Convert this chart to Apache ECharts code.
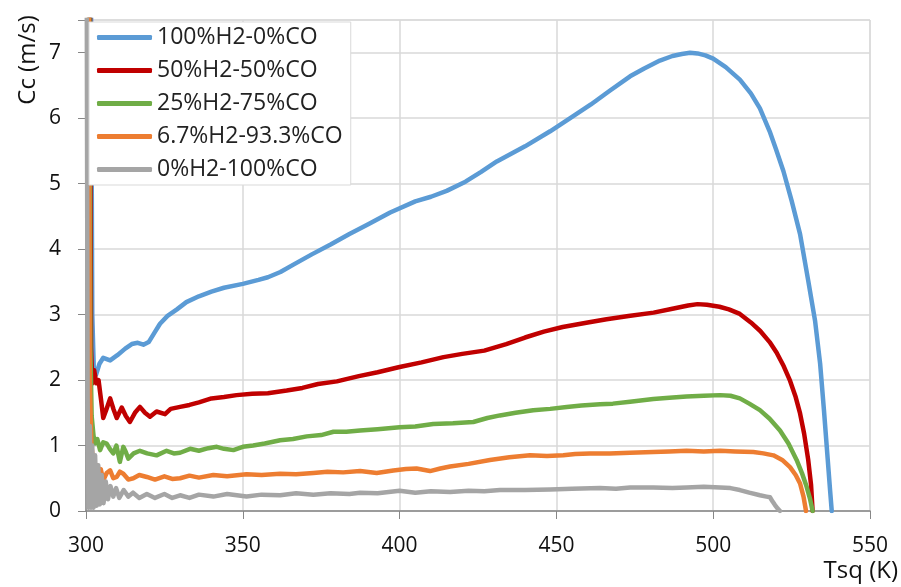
<!DOCTYPE html>
<html>
<head>
<meta charset="UTF-8">
<title>Cc vs Tsq</title>
<script src="https://cdn.jsdelivr.net/npm/echarts@6/dist/echarts.min.js"></script>
<style>
  html, body { margin: 0; padding: 0; background: #fff; }
  #main { width: 901px; height: 587px; }
</style>
</head>
<body>
<div id="main"></div>
<script>
// series names (legend order)
var names = ['100%H2-0%CO', '50%H2-50%CO', '25%H2-75%CO', '6.7%H2-93.3%CO', '0%H2-100%CO'];
var colors = ['#5b9bd5', '#c00000', '#70ad47', '#ed7d31', '#a5a5a5'];

// x axis ticks
var xTicks = [300, 350, 400, 450, 500, 550];

// 100%H2-0%CO
var tBlue = [301.5, 302.0, 302.5, 303.2, 304.3, 305.5, 307.7, 310, 312.5, 314.6, 316.5, 318.3, 320, 321.8, 323.6, 326, 329, 332, 336, 340, 344, 350, 355, 358, 362, 366, 372, 378, 384, 390, 397, 405, 410, 415, 421, 426, 431, 440, 448, 455, 461, 467, 473.5, 478, 483, 487, 490, 492.6, 495, 497.5, 500, 504, 508.5, 512, 514.9, 518, 520, 522.4, 525, 527.7, 530.3, 532.5, 534.1, 535.3, 536.5, 537.3, 537.8];
var vBlue = [9, 3.0, 2.15, 2.08, 2.25, 2.34, 2.30, 2.38, 2.48, 2.55, 2.57, 2.54, 2.58, 2.72, 2.86, 2.98, 3.08, 3.19, 3.28, 3.35, 3.41, 3.47, 3.53, 3.57, 3.65, 3.76, 3.92, 4.07, 4.23, 4.38, 4.56, 4.73, 4.80, 4.89, 5.03, 5.18, 5.34, 5.57, 5.80, 6.02, 6.21, 6.42, 6.64, 6.76, 6.88, 6.95, 6.98, 7.0, 6.99, 6.96, 6.91, 6.78, 6.59, 6.38, 6.15, 5.80, 5.53, 5.19, 4.74, 4.23, 3.52, 2.90, 2.25, 1.55, 0.8, 0.3, 0];

// 50%H2-50%CO
var tRed = [301.2, 301.6, 302.0, 302.6, 303.3, 304.0, 304.8, 305.5, 306.5, 307.7, 308.8, 309.8, 311.4, 312.7, 314.0, 315.6, 317.2, 318.8, 320.4, 322.5, 325.2, 327, 330, 333, 336, 340, 344, 348, 353, 358, 364, 369, 374, 380, 387, 393, 400, 407, 414, 420, 427, 434, 440, 446, 452, 460, 466, 473, 481, 487, 492, 495, 498, 502, 505, 508.5, 512, 515, 518, 520.2, 522.5, 524.5, 526.3, 527.7, 529, 530.3, 531.2, 531.7];
var vRed = [9, 2.5, 1.95, 2.15, 1.95, 2.0, 1.7, 1.42, 1.55, 1.72, 1.55, 1.42, 1.58, 1.45, 1.36, 1.50, 1.59, 1.50, 1.44, 1.52, 1.48, 1.56, 1.59, 1.62, 1.66, 1.72, 1.74, 1.77, 1.79, 1.80, 1.84, 1.88, 1.94, 1.98, 2.06, 2.12, 2.20, 2.27, 2.35, 2.40, 2.45, 2.55, 2.65, 2.74, 2.81, 2.88, 2.93, 2.98, 3.03, 3.09, 3.14, 3.16, 3.15, 3.12, 3.08, 3.01, 2.88, 2.75, 2.58, 2.42, 2.21, 1.99, 1.74, 1.49, 1.18, 0.78, 0.4, 0];

// 25%H2-75%CO
var tGreen = [301.0, 301.4, 301.8, 302.4, 302.9, 303.6, 304.5, 305.5, 306.6, 307.6, 308.7, 309.7, 310.8, 311.9, 312.7, 313.5, 315.2, 317.2, 319.5, 322.5, 325.7, 328, 330, 333.2, 336, 339, 341.7, 344, 347, 350, 353.3, 357, 361.9, 366, 370.4, 375, 378.9, 383, 387.4, 393, 400, 405, 410.7, 417, 423.5, 428, 432, 437, 442.6, 448, 453.3, 458, 463.9, 468, 473.5, 480.9, 486, 491.5, 497, 502.2, 505.5, 508.5, 511.5, 514.9, 518, 521.3, 524, 526.6, 528.3, 529.8, 530.9, 531.7];
var vGreen = [9, 2.5, 1.45, 1.15, 1.03, 1.10, 0.93, 1.05, 1.03, 0.95, 0.88, 1.0, 0.75, 0.98, 0.90, 0.80, 0.88, 0.92, 0.88, 0.85, 0.92, 0.88, 0.89, 0.95, 0.92, 0.96, 0.98, 0.95, 0.93, 0.98, 1.00, 1.03, 1.08, 1.10, 1.14, 1.16, 1.21, 1.21, 1.23, 1.25, 1.28, 1.29, 1.33, 1.34, 1.36, 1.42, 1.46, 1.50, 1.54, 1.56, 1.59, 1.61, 1.63, 1.64, 1.67, 1.71, 1.73, 1.75, 1.76, 1.77, 1.76, 1.72, 1.64, 1.54, 1.41, 1.23, 1.03, 0.78, 0.58, 0.37, 0.18, 0];

// 6.7%H2-93.3%CO
var tOrange = [300.8, 301.2, 301.7, 302.3, 302.8, 303.4, 303.9, 304.7, 305.5, 306.6, 307.7, 308.7, 309.8, 310.8, 311.9, 313.5, 315.1, 317, 319.4, 322, 325, 327.5, 330, 333, 336, 340.6, 345, 351.2, 356, 361.9, 367, 372.5, 377, 382, 387.4, 392.7, 398, 402, 405.4, 409.7, 413, 416.1, 422, 428.8, 435, 441.6, 447, 452.2, 456, 460.7, 467, 473.5, 480.9, 486, 491.5, 497, 502.2, 507, 512.8, 516, 519.2, 522, 524.5, 526.3, 527.7, 528.8, 529.6];
var vOrange = [9, 2.0, 1.0, 0.78, 0.62, 0.70, 0.57, 0.64, 0.47, 0.58, 0.62, 0.50, 0.52, 0.60, 0.57, 0.48, 0.50, 0.55, 0.52, 0.48, 0.53, 0.49, 0.50, 0.54, 0.51, 0.55, 0.53, 0.56, 0.55, 0.57, 0.56, 0.58, 0.60, 0.59, 0.61, 0.58, 0.62, 0.64, 0.65, 0.61, 0.65, 0.68, 0.72, 0.78, 0.82, 0.85, 0.84, 0.85, 0.87, 0.88, 0.88, 0.89, 0.90, 0.91, 0.92, 0.91, 0.92, 0.91, 0.90, 0.88, 0.85, 0.78, 0.67, 0.55, 0.42, 0.22, 0];

// 0%H2-100%CO
var tGray = [300.2, 300.5, 300.8, 301.2, 301.6, 302.0, 302.4, 302.9, 303.4, 303.9, 304.4, 305.0, 305.6, 306.3, 307.0, 307.8, 308.7, 309.6, 310.6, 312, 313.5, 315, 317, 319.4, 322, 325, 327.5, 330, 333, 336, 340.6, 345, 351.2, 356, 361.9, 367, 372.5, 378, 384, 387.4, 393, 400, 405, 410, 416.1, 422, 427, 432, 440, 448, 455, 463.9, 469, 473.5, 480.9, 487, 491.5, 497, 502.2, 505.5, 508.5, 511.5, 514.9, 517, 518.1, 519.0, 519.7, 520.5, 521.3];
var vGray = [9, 1.8, 0.05, 1.3, 0.05, 1.0, 0.05, 0.85, 0.08, 0.7, 0.1, 0.55, 0.12, 0.45, 0.18, 0.38, 0.22, 0.35, 0.2, 0.32, 0.22, 0.28, 0.2, 0.26, 0.2, 0.26, 0.2, 0.24, 0.2, 0.25, 0.22, 0.26, 0.22, 0.25, 0.24, 0.27, 0.25, 0.27, 0.26, 0.28, 0.27, 0.31, 0.28, 0.30, 0.29, 0.31, 0.30, 0.32, 0.32, 0.33, 0.34, 0.35, 0.34, 0.36, 0.36, 0.35, 0.36, 0.37, 0.36, 0.35, 0.32, 0.28, 0.24, 0.22, 0.21, 0.14, 0.09, 0.04, 0];

var xs = [tBlue, tRed, tGreen, tOrange, tGray];
var ys = [vBlue, vRed, vGreen, vOrange, vGray];

function pairs(t, v) {
  var out = [];
  for (var i = 0; i < t.length; i++) out.push([t[i], v[i]]);
  return out;
}

var font = '"Open Sans", "Noto Sans", sans-serif';

var series = [];
for (var k = 0; k < names.length; k++) {
  series.push({
    name: names[k],
    type: 'line',
    data: pairs(xs[k], ys[k]),
    showSymbol: false,
    symbol: 'none',
    smooth: false,
    clip: true,
    lineStyle: { color: colors[k], width: 4.5, cap: 'round', join: 'round' },
    itemStyle: { color: colors[k] }
  });
}

var chart = echarts.init(document.getElementById('main'));
chart.setOption({
  animation: false,
  backgroundColor: '#fff',
  grid: {
    left: 86, right: 31, top: 20, bottom: 76,
    show: true, borderColor: '#d9d9d9', borderWidth: 1
  },
  legend: {
    orient: 'vertical',
    left: 89, top: 22,
    data: names,
    icon: 'roundRect',
    itemWidth: 55, itemHeight: 5,
    itemGap: 10,
    backgroundColor: '#fff',
    borderColor: '#d9d9d9', borderWidth: 1,
    padding: [4, 8, 4, 8],
    textStyle: { fontFamily: font, fontSize: 23, color: '#222' }
  },
  xAxis: {
    type: 'value',
    min: xTicks[0], max: xTicks[xTicks.length - 1], interval: 50,
    axisLine: { lineStyle: { color: '#878787', width: 1.5 } },
    axisTick: { show: true, length: 8, lineStyle: { color: '#878787' } },
    splitLine: { show: true, lineStyle: { color: '#d9d9d9', width: 1.5 } },
    axisLabel: { fontFamily: font, fontSize: 21, color: '#111', margin: 25 }
  },
  yAxis: {
    type: 'value',
    min: 0, max: 7.5, interval: 1,
    axisLine: { show: true, lineStyle: { color: '#878787', width: 1.5 } },
    axisTick: { show: true, length: 8, lineStyle: { color: '#878787' } },
    splitLine: { show: true, lineStyle: { color: '#d9d9d9', width: 1.5 } },
    axisLabel: {
      fontFamily: font, fontSize: 21, color: '#111', margin: 25,
      formatter: function (v) { return v % 1 === 0 ? String(v) : ''; }
    }
  },
  graphic: [
    {
      type: 'text', x: 28, y: 60, rotation: Math.PI / 2,
      style: { text: 'Cc (m/s)', font: '24px ' + font, fill: '#111', align: 'center', verticalAlign: 'middle' }
    },
    {
      type: 'text', right: 3, top: 559,
      style: { text: 'Tsq (K)', font: '24px ' + font, fill: '#111' }
    }
  ],
  series: series
});
</script>
</body>
</html>
